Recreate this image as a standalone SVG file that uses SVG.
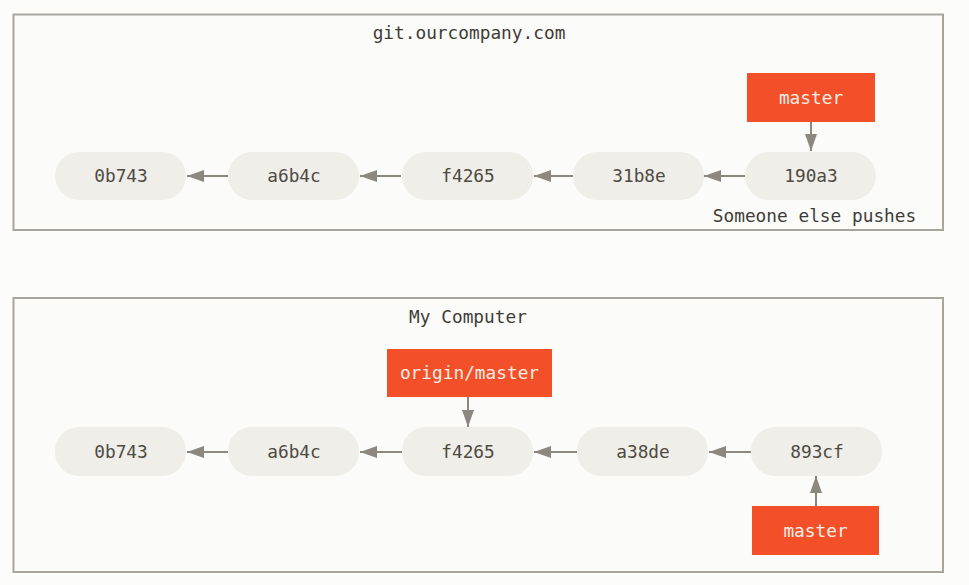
<svg xmlns="http://www.w3.org/2000/svg" width="969" height="585" viewBox="0 0 969 585">
<defs>
<marker id="ah" viewBox="0 0 17 12" refX="17" refY="6" markerWidth="17" markerHeight="12" markerUnits="userSpaceOnUse" orient="auto">
<path d="M0,0 L17,6 L0,12 Z" fill="#8c877f"/>
</marker>
<style>
.frame{fill:#fbfbf9;stroke:#a9a59d;stroke-width:2}
.commit{fill:#efeee8}
.ctext{font-family:"DejaVu Sans Mono",monospace;font-size:17.8px;fill:#4e4a44;text-anchor:middle}
.branch{fill:#f34f29}
.btext{font-family:"DejaVu Sans Mono",monospace;font-size:17.8px;fill:#f8eee4;text-anchor:middle}
.title{font-family:"DejaVu Sans Mono",monospace;font-size:17.8px;fill:#3f3c37;text-anchor:middle}
.conn{stroke:#8c877f;stroke-width:2;fill:none;marker-end:url(#ah)}
</style>
</defs>
<rect width="969" height="585" fill="#fcfcfb"/>
<g id="server">
<rect class="frame" x="13.5" y="14.5" width="929.5" height="215.5"/>
<text class="title" x="469" y="39">git.ourcompany.com</text>
<text class="title" x="814.5" y="222">Someone else pushes</text>
</g>
<g id="local">
<rect class="frame" x="13.5" y="298" width="929.5" height="274"/>
<text class="title" x="468" y="323">My Computer</text>
</g>
<g id="connectors">
<line class="conn" x1="228" y1="176" x2="187" y2="176"/>
<line class="conn" x1="401" y1="176" x2="360" y2="176"/>
<line class="conn" x1="573" y1="176" x2="534" y2="176"/>
<line class="conn" x1="745" y1="176" x2="704" y2="176"/>
<line class="conn" x1="811" y1="122" x2="811" y2="151"/>
<line class="conn" x1="228" y1="452" x2="187" y2="452"/>
<line class="conn" x1="402" y1="452" x2="360" y2="452"/>
<line class="conn" x1="577" y1="452" x2="534" y2="452"/>
<line class="conn" x1="751" y1="452" x2="709" y2="452"/>
<line class="conn" x1="468" y1="397" x2="468" y2="427"/>
<line class="conn" x1="816" y1="506" x2="816" y2="476"/>
</g>
<g id="s_0b743"><rect class="commit" x="55" y="152" width="131" height="48" rx="24"/><text class="ctext" x="121" y="182">0b743</text></g>
<g id="s_a6b4c"><rect class="commit" x="228" y="152" width="131" height="48" rx="24"/><text class="ctext" x="294" y="182">a6b4c</text></g>
<g id="s_f4265"><rect class="commit" x="402" y="152" width="131" height="48" rx="24"/><text class="ctext" x="468" y="182">f4265</text></g>
<g id="s_31b8e"><rect class="commit" x="573" y="152" width="131" height="48" rx="24"/><text class="ctext" x="639" y="182">31b8e</text></g>
<g id="s_190a3"><rect class="commit" x="745" y="152" width="131" height="48" rx="24"/><text class="ctext" x="811" y="182">190a3</text></g>
<g id="s_master"><rect class="branch" x="747" y="73" width="128" height="49"/><text class="btext" x="811" y="104">master</text></g>
<g id="l_0b743"><rect class="commit" x="55" y="427" width="131" height="49" rx="24"/><text class="ctext" x="121" y="458">0b743</text></g>
<g id="l_a6b4c"><rect class="commit" x="228" y="427" width="131" height="49" rx="24"/><text class="ctext" x="294" y="458">a6b4c</text></g>
<g id="l_f4265"><rect class="commit" x="402" y="427" width="131" height="49" rx="24"/><text class="ctext" x="468" y="458">f4265</text></g>
<g id="l_a38de"><rect class="commit" x="577" y="427" width="131" height="49" rx="24"/><text class="ctext" x="643" y="458">a38de</text></g>
<g id="l_893cf"><rect class="commit" x="751" y="427" width="131" height="49" rx="24"/><text class="ctext" x="817" y="458">893cf</text></g>
<g id="l_origin_master"><rect class="branch" x="387" y="349" width="165" height="48"/><text class="btext" x="469.5" y="379">origin/master</text></g>
<g id="l_master"><rect class="branch" x="752" y="506" width="127" height="49"/><text class="btext" x="815.5" y="537">master</text></g>
</svg>
